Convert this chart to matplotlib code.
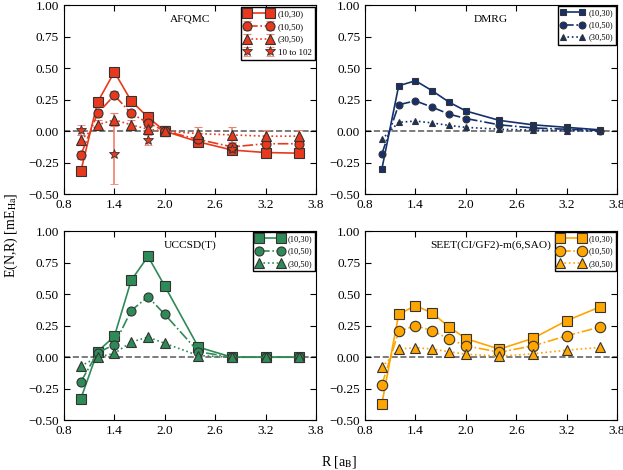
import matplotlib
matplotlib.use("Agg")
import matplotlib.pyplot as plt
import numpy as np

plt.rcParams['font.family'] = ['Liberation Serif', 'DejaVu Serif']
plt.rcParams['mathtext.fontset'] = 'stix'
plt.rcParams['xtick.direction'] = 'in'
plt.rcParams['ytick.direction'] = 'in'
plt.rcParams['xtick.top'] = True
plt.rcParams['ytick.right'] = True

# bond lengths
R = [1.0, 1.2, 1.4, 1.6, 1.8, 2.0, 2.4, 2.8, 3.2, 3.6]
labels = ["(10,30)", "(10,50)", "(30,50)"]

# AFQMC
afqmc_1030 = [-0.32, 0.23, 0.47, 0.24, 0.11, 0.0, -0.085, -0.15, -0.17, -0.175]
afqmc_1050 = [-0.19, 0.14, 0.285, 0.14, 0.066, 0.0, -0.066, -0.125, -0.10, -0.10]
afqmc_3050 = [-0.07, 0.05, 0.09, 0.05, 0.015, 0.0, -0.02, -0.03, -0.04, -0.04]
afqmc_err_1030 = [0.02, 0.02, 0.02, 0.02, 0.02, 0.04, 0.02, 0.02, 0.02, 0.02]
afqmc_err_1050 = [0.03, 0.03, 0.03, 0.03, 0.03, 0.04, 0.03, 0.03, 0.03, 0.03]
afqmc_err_3050 = [0.04, 0.04, 0.05, 0.04, 0.04, 0.04, 0.05, 0.06, 0.05, 0.05]
R_star = [1.0, 1.4, 1.8, 2.8]
afqmc_star = [0.01, -0.185, -0.07, -0.14]
afqmc_star_err = [0.04, 0.235, 0.04, 0.03]

# DMRG
dmrg_1030 = [-0.30, 0.36, 0.40, 0.32, 0.23, 0.16, 0.085, 0.05, 0.03, 0.01]
dmrg_1050 = [-0.18, 0.21, 0.24, 0.19, 0.135, 0.10, 0.05, 0.025, 0.015, 0.005]
dmrg_3050 = [-0.065, 0.07, 0.08, 0.065, 0.045, 0.03, 0.015, 0.008, 0.005, 0.0]

# UCCSD(T)
cc_1030 = [-0.33, 0.045, 0.166, 0.61, 0.80, 0.565, 0.08, 0.0, 0.0, 0.0]
cc_1050 = [-0.195, 0.035, 0.10, 0.37, 0.48, 0.34, 0.043, 0.0, 0.0, 0.0]
cc_3050 = [-0.07, 0.0, 0.03, 0.12, 0.16, 0.11, 0.013, 0.0, 0.0, 0.0]

# SEET
seet_1030 = [-0.37, 0.34, 0.41, 0.35, 0.24, 0.147, 0.064, 0.15, 0.29, 0.40]
seet_1050 = [-0.22, 0.205, 0.25, 0.21, 0.145, 0.09, 0.04, 0.09, 0.17, 0.24]
seet_3050 = [-0.08, 0.065, 0.075, 0.065, 0.043, 0.024, 0.008, 0.027, 0.056, 0.078]

styles = [('s', '-'), ('o', '-.'), ('^', ':')]

fig = plt.figure(figsize=(6.23, 4.70), dpi=100)
w, h = 0.4045, 0.402
ax1 = fig.add_axes([0.1027, 0.587, w, h])
ax2 = fig.add_axes([0.586, 0.587, w, h])
ax3 = fig.add_axes([0.1027, 0.106, w, h])
ax4 = fig.add_axes([0.586, 0.106, w, h])

def setup(ax, title):
    ax.axhline(0, color='0.4', ls='--', lw=1.2, zorder=0)
    ax.set_xlim(0.8, 3.8)
    ax.set_ylim(-0.5, 1.0)
    ax.set_xticks(np.arange(0.8, 3.81, 0.6))
    ax.set_yticks(np.arange(-0.5, 1.01, 0.25))
    ax.set_xticklabels([f"{t:.1f}" for t in np.arange(0.8, 3.81, 0.6)])
    ax.set_yticklabels([f"{t:.2f}".replace('-', '\u2212') for t in np.arange(-0.5, 1.01, 0.25)])
    ax.tick_params(labelsize=9.5, length=4)
    ax.text(0.5, 0.925, title, transform=ax.transAxes, ha='center', va='center', fontsize=8.2)

def add_legend(ax, fs, hl):
    leg = ax.legend(loc='upper right', numpoints=2, fontsize=fs, fancybox=False, edgecolor='black',
                    framealpha=1, borderaxespad=0.15, handlelength=hl, labelspacing=0.5,
                    handletextpad=0.5, borderpad=0.35)
    leg.get_frame().set_linewidth(1.0)

# AFQMC
red = '#e8391d'
for (m, ls), y, e, lab in zip(styles, [afqmc_1030, afqmc_1050, afqmc_3050],
                              [afqmc_err_1030, afqmc_err_1050, afqmc_err_3050], labels):
    ax1.errorbar(R, y, yerr=e, marker=m, ls=ls, color=red, ms=6.5, mec='#333333', mew=0.8,
                 ecolor='#f08070', elinewidth=1.2, capsize=3, capthick=1.2, lw=1.2, label=lab)
ax1.errorbar(R_star, afqmc_star, yerr=afqmc_star_err, marker='*', ls='none', color=red, ms=7.5,
             mec='#333333', mew=0.6, ecolor='#f08070', elinewidth=1.2, capsize=3, capthick=1.2,
             label="10 to 102")
setup(ax1, "AFQMC")
add_legend(ax1, 6.5, 3.2)

def panel(ax, ys, color, ms, title, fs, hl):
    for (m, ls), y, lab in zip(styles, ys, labels):
        ax.plot(R, y, marker=m, ls=ls, color=color, ms=ms, mec='#333333', mew=0.8, lw=1.2, label=lab)
    setup(ax, title)
    add_legend(ax, fs, hl)

panel(ax2, [dmrg_1030, dmrg_1050, dmrg_3050], '#14306e', 5, "DMRG", 6, 2.8)
panel(ax3, [cc_1030, cc_1050, cc_3050], '#2e8b57', 6.5, "UCCSD(T)", 6, 3.2)
panel(ax4, [seet_1030, seet_1050, seet_3050], '#ffa500', 7.5, "SEET(CI/GF2)-m(6,SAO)", 6, 3.2)

fig.text(0.018, 0.5, r"E(N,R) [mE$_{\mathrm{Ha}}$]", rotation=90, ha='center', va='center', fontsize=10)
fig.text(0.545, 0.018, r"R [a$_{\mathrm{B}}$]", ha='center', va='center', fontsize=10)

fig.savefig("out.png", dpi=100)
